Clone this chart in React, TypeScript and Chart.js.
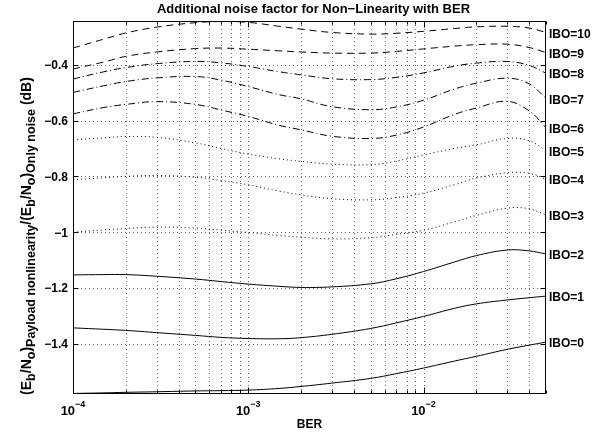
import React, { useEffect, useRef } from 'react';
import { Chart, registerables } from 'chart.js';

Chart.register(...registerables);

// ---- data ----
const BER = [1e-4, 1.5e-4, 2e-4, 3e-4, 5e-4, 7e-4, 1e-3, 1.5e-3, 2e-3, 3e-3, 5e-3, 7e-3, 1e-2, 1.5e-2, 2e-2, 3e-2, 4e-2, 5e-2];

const IBO0 = [-1.578, -1.576, -1.574, -1.572, -1.569, -1.568, -1.566, -1.560, -1.553, -1.541, -1.524, -1.507, -1.487, -1.462, -1.445, -1.420, -1.405, -1.394];
const IBO1 = [-1.343, -1.348, -1.352, -1.360, -1.370, -1.377, -1.381, -1.382, -1.378, -1.366, -1.345, -1.325, -1.302, -1.273, -1.257, -1.243, -1.235, -1.229];
const IBO2 = [-1.153, -1.152, -1.152, -1.158, -1.168, -1.177, -1.186, -1.194, -1.198, -1.196, -1.185, -1.167, -1.141, -1.107, -1.084, -1.064, -1.067, -1.078];
const IBO3 = [-1.000, -0.992, -0.987, -0.982, -0.985, -0.993, -1.001, -1.012, -1.018, -1.024, -1.020, -1.008, -0.993, -0.963, -0.940, -0.914, -0.916, -0.938];
const IBO4 = [-0.812, -0.805, -0.800, -0.797, -0.803, -0.815, -0.830, -0.853, -0.866, -0.880, -0.884, -0.876, -0.860, -0.830, -0.806, -0.787, -0.789, -0.810];
const IBO5 = [-0.669, -0.662, -0.657, -0.660, -0.680, -0.700, -0.720, -0.737, -0.746, -0.756, -0.758, -0.745, -0.723, -0.700, -0.687, -0.664, -0.672, -0.708];
const IBO6 = [-0.576, -0.553, -0.542, -0.532, -0.542, -0.562, -0.585, -0.617, -0.633, -0.656, -0.664, -0.652, -0.623, -0.578, -0.555, -0.531, -0.565, -0.625];
const IBO7 = [-0.499, -0.475, -0.460, -0.447, -0.442, -0.455, -0.478, -0.507, -0.522, -0.550, -0.561, -0.551, -0.527, -0.487, -0.466, -0.448, -0.468, -0.520];
const IBO8 = [-0.451, -0.425, -0.410, -0.396, -0.388, -0.393, -0.406, -0.425, -0.436, -0.450, -0.453, -0.445, -0.429, -0.405, -0.394, -0.388, -0.402, -0.430];
const IBO9 = [-0.415, -0.390, -0.370, -0.354, -0.342, -0.340, -0.344, -0.350, -0.354, -0.358, -0.358, -0.352, -0.343, -0.333, -0.328, -0.326, -0.338, -0.356];
const IBO10 = [-0.340, -0.308, -0.286, -0.265, -0.249, -0.245, -0.248, -0.262, -0.272, -0.284, -0.290, -0.287, -0.280, -0.270, -0.264, -0.262, -0.268, -0.284];

const SERIES = [IBO0, IBO1, IBO2, IBO3, IBO4, IBO5, IBO6, IBO7, IBO8, IBO9, IBO10];
const SERIES_LABELS = ['IBO=0', 'IBO=1', 'IBO=2', 'IBO=3', 'IBO=4', 'IBO=5', 'IBO=6', 'IBO=7', 'IBO=8', 'IBO=9', 'IBO=10'];
const SERIES_STYLE = ['solid', 'solid', 'solid', 'dot', 'dot', 'dot', 'dashdot', 'dashdot', 'dashdot', 'dash', 'dash'];

const Y_TICKS = [-1.4, -1.2, -1, -0.8, -0.6, -0.4];
const Y_TICK_LABELS = ['\u22121.4', '\u22121.2', '\u22121', '\u22120.8', '\u22120.6', '\u22120.4'];
const X_DECADES = [-4, -3, -2];
const X_MIN = 1e-4;
const X_MAX = 0.05;
const Y_MIN = -1.58;
const Y_MAX = -0.243;

const TITLE = 'Additional noise factor for Non\u2212Linearity with BER';
const X_LABEL = 'BER';
// y label pieces: [text, isSubscript]
const Y_LABEL_PARTS: [string, boolean][] = [
  ['(E', false], ['b', true], ['/N', false], ['o', true], [')', false],
  ['Payload nonlinearity', true],
  ['/(E', false], ['b', true], ['/N', false], ['o', true], [')', false],
  ['Only noise', true],
  [' (dB)', false],
];

const FONT = "'Liberation Sans', Arial, Helvetica, sans-serif";

function dashFor(style: string): number[] {
  if (style === 'dot') return [1, 3];
  if (style === 'dashdot') return [7, 3, 1, 3];
  if (style === 'dash') return [7, 5];
  return [];
}

const matlabPlugin = {
  id: 'matlabAxes',
  beforeDatasetsDraw(chart: any) {
    const { ctx, chartArea: a, scales } = chart;
    const xs = scales.x;
    const ys = scales.y;
    ctx.save();
    ctx.strokeStyle = 'rgba(0,0,0,0.6)';
    ctx.lineWidth = 1;
    ctx.setLineDash([1, 3]);
    for (const d of X_DECADES) {
      for (let m = 1; m <= 9; m++) {
        const v = m * Math.pow(10, d);
        if (v <= X_MIN * 1.0001 || v >= X_MAX * 0.9999) continue;
        const px = Math.round(xs.getPixelForValue(v)) + 0.5;
        ctx.beginPath();
        ctx.moveTo(px, a.top);
        ctx.lineTo(px, a.bottom);
        ctx.stroke();
      }
    }
    for (const t of Y_TICKS) {
      const py = Math.round(ys.getPixelForValue(t)) + 0.5;
      ctx.beginPath();
      ctx.moveTo(a.left, py);
      ctx.lineTo(a.right, py);
      ctx.stroke();
    }
    ctx.restore();
  },
  afterDatasetsDraw(chart: any) {
    const { ctx, chartArea: a, scales } = chart;
    const xs = scales.x;
    const ys = scales.y;
    ctx.save();
    ctx.setLineDash([]);
    ctx.strokeStyle = '#000';
    ctx.lineWidth = 1;
    const L = Math.round(a.left) + 0.5;
    const R = Math.round(a.right) - 0.5;
    const T = Math.round(a.top) + 0.5;
    const B = Math.round(a.bottom) - 0.5;
    ctx.strokeRect(L, T, R - L, B - T);

    // x ticks (inward, top & bottom)
    for (const d of X_DECADES) {
      for (let m = 1; m <= 9; m++) {
        const v = m * Math.pow(10, d);
        if (v < X_MIN * 0.9999 || v > X_MAX * 1.0001) continue;
        const px = Math.round(xs.getPixelForValue(v)) + 0.5;
        const len = m === 1 ? 6 : 3;
        ctx.beginPath();
        ctx.moveTo(px, B);
        ctx.lineTo(px, B - len);
        ctx.moveTo(px, T);
        ctx.lineTo(px, T + len);
        ctx.stroke();
      }
    }
    // y ticks (inward, left & right)
    for (const t of Y_TICKS) {
      const py = Math.round(ys.getPixelForValue(t)) + 0.5;
      ctx.beginPath();
      ctx.moveTo(L, py);
      ctx.lineTo(L + 5, py);
      ctx.moveTo(R, py);
      ctx.lineTo(R - 5, py);
      ctx.stroke();
    }

    ctx.fillStyle = '#000';
    // y tick labels
    ctx.font = `bold 12px ${FONT}`;
    ctx.textAlign = 'right';
    ctx.textBaseline = 'middle';
    Y_TICKS.forEach((t, i) => {
      ctx.fillText(Y_TICK_LABELS[i], a.left - 5, ys.getPixelForValue(t) + 1);
    });

    // x tick labels 10^d
    ctx.textBaseline = 'alphabetic';
    ctx.textAlign = 'left';
    for (const d of X_DECADES) {
      const px = xs.getPixelForValue(Math.pow(10, d));
      const base = '10';
      const exp = '\u2212' + Math.abs(d);
      ctx.font = `bold 13px ${FONT}`;
      const wb = ctx.measureText(base).width;
      ctx.font = `bold 9px ${FONT}`;
      const we = ctx.measureText(exp).width;
      const start = px - (wb + we) / 2;
      ctx.font = `bold 13px ${FONT}`;
      ctx.fillText(base, start, a.bottom + 21);
      ctx.font = `bold 9px ${FONT}`;
      ctx.fillText(exp, start + wb, a.bottom + 13);
    }

    // x label
    ctx.font = `bold 12px ${FONT}`;
    ctx.textAlign = 'center';
    ctx.fillText(X_LABEL, (a.left + a.right) / 2, a.bottom + 34);

    // title
    ctx.font = `bold 13px ${FONT}`;
    ctx.textBaseline = 'middle';
    ctx.fillText(TITLE, (a.left + a.right) / 2 + 4, 9);

    // series labels at right
    ctx.font = `bold 12px ${FONT}`;
    ctx.textAlign = 'left';
    ctx.textBaseline = 'middle';
    SERIES.forEach((s, i) => {
      const yv = s[s.length - 1];
      ctx.fillText(SERIES_LABELS[i], a.right + 3, ys.getPixelForValue(yv) + 2);
    });

    // y label (rotated, with subscripts)
    const mainF = `bold 14px ${FONT}`;
    const subF = `bold 12.5px ${FONT}`;
    let total = 0;
    for (const [txt, sub] of Y_LABEL_PARTS) {
      ctx.font = sub ? subF : mainF;
      total += ctx.measureText(txt).width;
    }
    ctx.translate(31, 236);
    ctx.rotate(-Math.PI / 2);
    ctx.textAlign = 'left';
    ctx.textBaseline = 'alphabetic';
    let cx = -total / 2;
    for (const [txt, sub] of Y_LABEL_PARTS) {
      ctx.font = sub ? subF : mainF;
      ctx.fillText(txt, cx, sub ? 4 : 0);
      cx += ctx.measureText(txt).width;
    }
    ctx.restore();
  },
};

export default function App() {
  const ref = useRef<HTMLCanvasElement | null>(null);
  useEffect(() => {
    if (!ref.current) return;
    const datasets = SERIES.map((s, i) => ({
      label: SERIES_LABELS[i],
      data: BER.map((b, j) => ({ x: b, y: s[j] })),
      borderColor: '#000',
      borderWidth: 1,
      borderDash: dashFor(SERIES_STYLE[i]),
      pointRadius: 0,
      tension: 0.4,
      fill: false,
    }));
    const chart = new Chart(ref.current, {
      type: 'line',
      data: { datasets },
      options: {
        animation: false,
        responsive: false,
        devicePixelRatio: 1,
        layout: { padding: { left: 73, right: 64, top: 21, bottom: 41 } },
        plugins: {
          legend: { display: false },
          tooltip: { enabled: false },
          title: { display: false },
        },
        scales: {
          x: { type: 'logarithmic', min: X_MIN, max: X_MAX, display: false },
          y: { type: 'linear', min: Y_MIN, max: Y_MAX, display: false },
        },
      },
      plugins: [matlabPlugin],
    });
    return () => chart.destroy();
  }, []);
  return (
    <div style={{ position: 'absolute', left: 0, top: 0, width: 610, height: 435, background: '#fff' }}>
      <canvas ref={ref} width={610} height={435} style={{ width: 610, height: 435, display: 'block' }} />
    </div>
  );
}
